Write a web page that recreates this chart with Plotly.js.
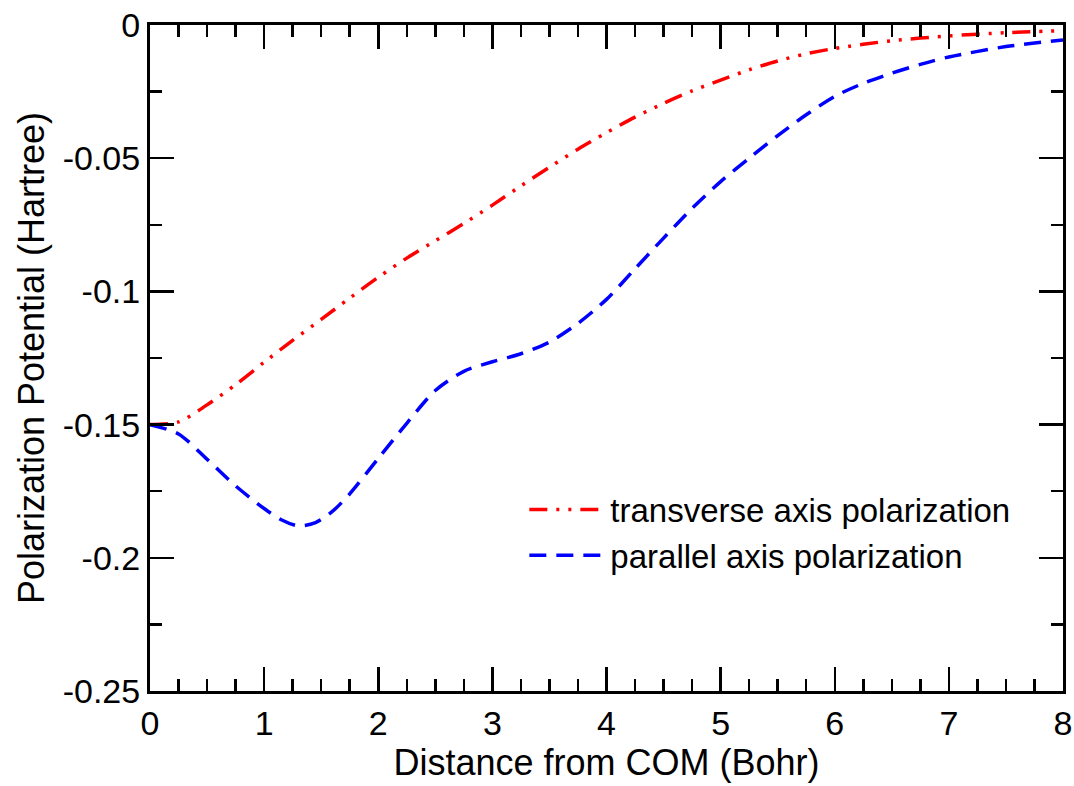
<!DOCTYPE html>
<html>
<head>
<meta charset="utf-8">
<script src="https://cdn.plot.ly/plotly-3.0.1.min.js"></script>
<style>html,body{margin:0;padding:0;background:#fff;}#chart{width:1074px;height:786px;}</style>
</head>
<body>
<div id="chart"></div>
<script>
// Transverse axis polarization (red, dash-dot-dot)
const xTransverse = [0, 0.25, 0.5, 0.75, 1, 1.25, 1.5, 1.75, 2, 2.25, 2.5, 2.75, 3, 3.25, 3.5, 3.75, 4, 4.25, 4.5, 4.75, 5, 5.25, 5.5, 5.75, 6, 6.5, 7, 7.5, 8];
const yTransverse = [-0.150, -0.1490, -0.1426, -0.1350, -0.1266, -0.1184, -0.1105, -0.1025, -0.0947, -0.0875, -0.0810, -0.0745, -0.0676, -0.0604, -0.0534, -0.0466, -0.0404, -0.0346, -0.0294, -0.0247, -0.0207, -0.0168, -0.0135, -0.0108, -0.0088, -0.0059, -0.0041, -0.0029, -0.0021];

// Parallel axis polarization (blue, dashed)
const xParallel = [0, 0.25, 0.5, 0.75, 1, 1.15, 1.3, 1.45, 1.6, 1.75, 2, 2.25, 2.5, 2.75, 3, 3.25, 3.5, 3.75, 4, 4.25, 4.5, 4.75, 5, 5.25, 5.5, 5.75, 6, 6.25, 6.5, 6.75, 7, 7.5, 8];
const yParallel = [-0.150, -0.1535, -0.1630, -0.1730, -0.1815, -0.1857, -0.1880, -0.1868, -0.1825, -0.1760, -0.1627, -0.1495, -0.1372, -0.1300, -0.1264, -0.1234, -0.1190, -0.1120, -0.1030, -0.0915, -0.0800, -0.0688, -0.0588, -0.0500, -0.0415, -0.0337, -0.0268, -0.0219, -0.0181, -0.0148, -0.0120, -0.0081, -0.0056];

const seriesNames = ["transverse axis polarization", "parallel axis polarization"];

const yTickVals = [0, -0.05, -0.1, -0.15, -0.2, -0.25];
const yTickText = ["0", "-0.05", "-0.1", "-0.15", "-0.2", "-0.25"];
const xTickVals = [0, 1, 2, 3, 4, 5, 6, 7, 8];
const xTickText = ["0", "1", "2", "3", "4", "5", "6", "7", "8"];

const FONT = "Liberation Sans, Arial, Helvetica, sans-serif";

const traces = [
  {
    x: xTransverse, y: yTransverse, name: seriesNames[0],
    type: "scatter", mode: "lines",
    line: {color: "#ff0000", width: 3.5, dash: "18px,9px,3px,9px,3px,9px", shape: "spline", smoothing: 0.8}
  },
  {
    x: xParallel, y: yParallel, name: seriesNames[1],
    type: "scatter", mode: "lines",
    line: {color: "#0000ff", width: 3.5, dash: "17px,10px", shape: "spline", smoothing: 0.8}
  }
];

const layout = {
  width: 1074, height: 786,
  margin: {l: 150, r: 11, t: 25, b: 95, pad: 0},
  paper_bgcolor: "#ffffff", plot_bgcolor: "#ffffff",
  font: {family: FONT, color: "#000", size: 33},
  showlegend: true,
  legend: {
    x: 0.410, y: 0.238, xanchor: "left", yanchor: "middle",
    bgcolor: "rgba(0,0,0,0)", borderwidth: 0,
    font: {family: FONT, size: 33, color: "#000"},
    itemwidth: 76, tracegroupgap: 0
  },
  xaxis: {
    range: [0, 8], autorange: false,
    tickmode: "array", tickvals: xTickVals, ticktext: xTickText,
    ticks: "inside", ticklen: 24, tickwidth: 2.5, tickcolor: "#000",
    minor: {ticks: "inside", ticklen: 12, tickwidth: 2.5, tickcolor: "#000", dtick: 0.25, tick0: 0, tickmode: "linear", showgrid: false},
    showline: true, linewidth: 3, linecolor: "#000", mirror: "ticks",
    showgrid: false, zeroline: false,
    tickfont: {family: FONT, size: 34, color: "#000"},
    title: {text: "Distance from COM (Bohr)", font: {family: FONT, size: 36, color: "#000"}, standoff: 10},
    automargin: false
  },
  yaxis: {
    range: [-0.25, 0], autorange: false,
    tickmode: "array", tickvals: yTickVals, ticktext: yTickText,
    ticks: "inside", ticklen: 24, tickwidth: 2.5, tickcolor: "#000",
    minor: {ticks: "inside", ticklen: 12, tickwidth: 2.5, tickcolor: "#000", dtick: 0.025, tick0: 0, tickmode: "linear", showgrid: false},
    showline: true, linewidth: 3, linecolor: "#000", mirror: "ticks",
    showgrid: false, zeroline: false,
    tickfont: {family: FONT, size: 34, color: "#000"},
    title: {text: "Polarization Potential (Hartree)", font: {family: FONT, size: 36, color: "#000"}, standoff: 8},
    automargin: false
  }
};

Plotly.newPlot("chart", traces, layout, {staticPlot: true, displayModeBar: false});
</script>
</body>
</html>
